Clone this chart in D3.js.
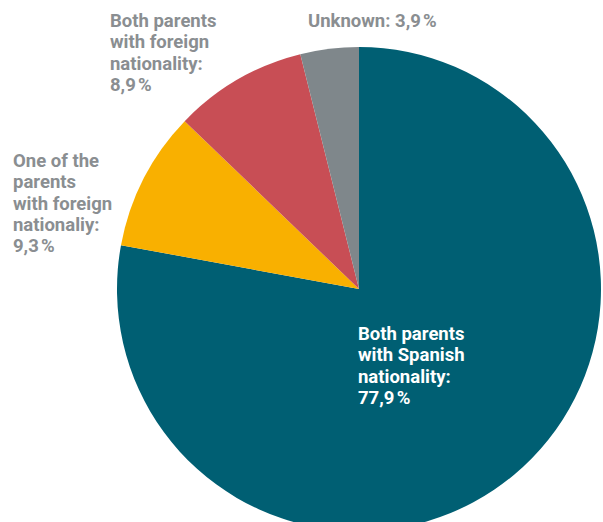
<!DOCTYPE html>
<html><head><meta charset="utf-8">
<script src="https://cdn.jsdelivr.net/npm/d3@7"></script>
<style>body{margin:0;background:#fff}svg{display:block}text{font-family:Roboto,sans-serif;font-weight:700;font-size:18.5px}</style>
</head><body><svg id="c" width="603" height="522"></svg>
<script>
const categories = ["Both parents with Spanish nationality","One of the parents with foreign nationaliy","Both parents with foreign nationality","Unknown"];
const values = [77.9, 9.3, 8.9, 3.9];
const colors = ["#005f73","#f9b000","#c84e55","#7f878b"];
const labelLines = [
  ["Both parents","with Spanish","nationality:","77,9\u202F%"],
  ["One of the","parents","with foreign","nationaliy:","9,3\u202F%"],
  ["Both parents","with foreign","nationality:","8,9\u202F%"],
  ["Unknown: 3,9\u202F%"]
];
const labelPos = [[358,340,"#fff"],[13,167,"#8a8e91"],[110,27,"#8a8e91"],[308,27,"#8a8e91"]];
const svg = d3.select("#c");
const cx=359, cy=289, r=242;
const pie = d3.pie().sort(null).value(d=>d);
const arc = d3.arc().innerRadius(0).outerRadius(r);
const g = svg.append("g").attr("transform",`translate(${cx},${cy})`);
g.selectAll("path").data(pie(values)).join("path").attr("d",arc).attr("fill",(d,i)=>colors[i]);
labelLines.forEach((lines,i)=>{
  const t = svg.append("text").attr("x",labelPos[i][0]).attr("y",labelPos[i][1]).attr("fill",labelPos[i][2]);
  lines.forEach((l,j)=>t.append("tspan").attr("x",labelPos[i][0]).attr("dy",j?21.3:0).text(l));
});
</script></body></html>
